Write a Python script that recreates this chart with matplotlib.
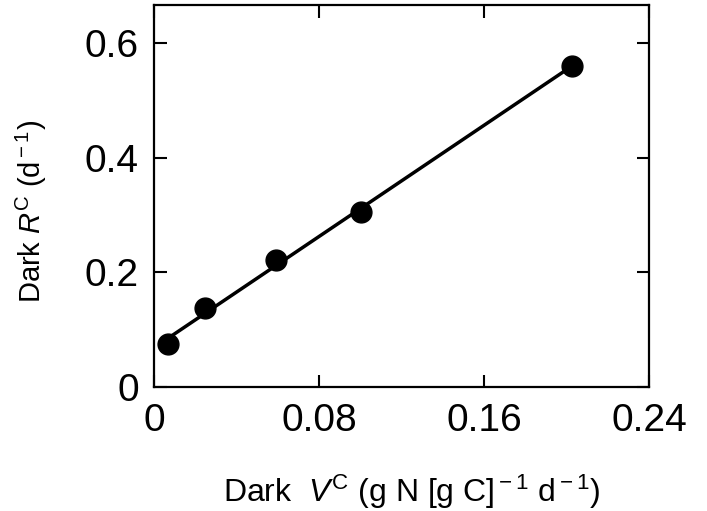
import numpy as np
import matplotlib
matplotlib.use('Agg')
import matplotlib.pyplot as plt

plt.rcParams['font.family'] = ['Liberation Sans', 'DejaVu Sans']
plt.rcParams['mathtext.fontset'] = 'custom'
plt.rcParams['mathtext.rm'] = 'Liberation Sans'
plt.rcParams['mathtext.it'] = 'Liberation Sans:italic'

# dark V^C vs dark R^C
v_dark = [0.0068, 0.0248, 0.0593, 0.1002, 0.2028]
r_dark = [0.074, 0.137, 0.221, 0.305, 0.560]

x_ticks = [0, 0.08, 0.16, 0.24]
x_tick_labels = ['0', '0.08', '0.16', '0.24']
y_ticks = [0, 0.2, 0.4, 0.6]
y_tick_labels = ['0', '0.2', '0.4', '0.6']

fig = plt.figure(figsize=(7.07, 5.11), dpi=100)
ax = fig.add_axes([0.218, 0.243, 0.700, 0.747])

# linear fit across the data range
k, b = np.polyfit(v_dark, r_dark, 1)
xs = np.array([v_dark[0], v_dark[-1]])
ax.plot(xs, k * xs + b, color='black', lw=2.5, zorder=2)
ax.plot(v_dark, r_dark, 'o', color='black', ms=15, zorder=3)

ax.set_xlim(0, 0.24)
ax.set_ylim(0, 0.666)
ax.set_xticks(x_ticks)
ax.set_xticklabels(x_tick_labels)
ax.set_yticks(y_ticks)
ax.set_yticklabels(y_tick_labels)

ax.tick_params(direction='in', length=9, width=1.5, labelsize=28,
               top=True, right=True)
ax.tick_params(axis='x', pad=12)
ax.tick_params(axis='y', pad=11)
for s in ax.spines.values():
    s.set_linewidth(1.6)

ax.set_xlabel(r'Dark  $\mathit{V}^{\rm C}$ (g N [g C]$^{\rm -1}$ d$^{\rm -1}$)', fontsize=23)
ax.set_ylabel(r'Dark $\mathit{R}^{\rm C}$ (d$^{\rm -1}$)', fontsize=21)
ax.xaxis.set_label_coords(0.52, -0.225)
ax.yaxis.set_label_coords(-0.212, 0.46)

fig.savefig('out.png', dpi=100)
